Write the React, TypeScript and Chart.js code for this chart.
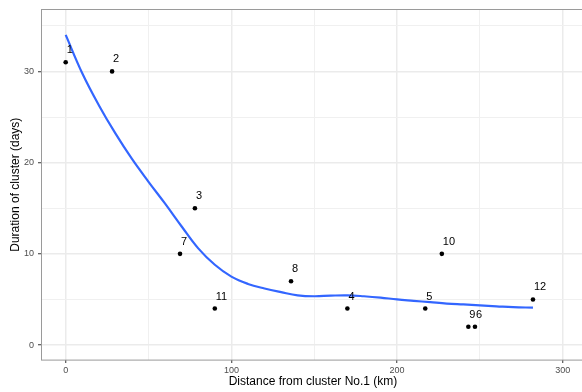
import React, { useEffect, useRef } from 'react';
import { Chart, registerables } from 'chart.js';

Chart.register(...registerables);

// Cluster points
const clusterLabels = ['1', '2', '3', '4', '5', '6', '7', '8', '9', '10', '11', '12'];
const distanceKm = [0, 28, 78, 170, 217, 247, 69, 136, 243, 227, 90, 282];
const durationDays = [31, 30, 15, 4, 4, 2, 10, 7, 2, 10, 4, 5];

// Smoothed (loess) curve
const smoothDistance = [0, 10, 20, 30, 40, 50, 60, 70, 80, 90, 100, 110, 120, 130, 140, 150, 160, 170, 180, 190, 200, 210, 220, 230, 240, 250, 260, 270, 282];
const smoothDuration = [34.0, 29.8, 26.3, 23.2, 20.4, 17.9, 15.5, 13.0, 10.6, 8.8, 7.5, 6.7, 6.2, 5.8, 5.45, 5.35, 5.42, 5.45, 5.35, 5.2, 5.0, 4.85, 4.7, 4.55, 4.45, 4.35, 4.25, 4.15, 4.1];

// Axis ticks (major labelled, minor grid only)
const xTickValues = [0, 50, 100, 150, 200, 250, 300];
const xMajorTicks = [0, 100, 200, 300];
const yTickValues = [0, 5, 10, 15, 20, 25, 30, 35];
const yMajorTicks = [0, 10, 20, 30];

const xTitle = 'Distance from cluster No.1 (km)';
const yTitle = 'Duration of cluster (days)';

export default function App() {
  const ref = useRef<HTMLCanvasElement>(null);

  useEffect(() => {
    const canvas = ref.current;
    if (!canvas) return;
    const family = "'Liberation Sans', Arial, Helvetica, sans-serif";

    const labelPlugin = {
      id: 'pointLabels',
      afterDatasetsDraw(chart: any) {
        const meta = chart.getDatasetMeta(0);
        const ctx = chart.ctx;
        ctx.save();
        ctx.font = `11px ${family}`;
        ctx.fillStyle = '#000000';
        ctx.textAlign = 'left';
        ctx.textBaseline = 'middle';
        meta.data.forEach((el: any, i: number) => {
          ctx.fillText(clusterLabels[i], el.x + 1, el.y - 12);
        });
        ctx.restore();
      },
    };

    const borderPlugin = {
      id: 'panelBorder',
      afterDraw(chart: any) {
        const { left, top, right, bottom } = chart.chartArea;
        const ctx = chart.ctx;
        ctx.save();
        ctx.strokeStyle = '#9a9a9a';
        ctx.lineWidth = 1;
        ctx.strokeRect(Math.round(left) + 0.5, Math.round(top) + 0.5, right - left, bottom - top);
        ctx.restore();
      },
    };

    const chart = new Chart(canvas, {
      type: 'scatter',
      data: {
        datasets: [
          {
            type: 'scatter',
            data: distanceKm.map((x, i) => ({ x, y: durationDays[i] })),
            backgroundColor: '#000000',
            borderWidth: 0,
            pointRadius: 2.3,
            order: 1,
          },
          {
            type: 'line',
            data: smoothDistance.map((x, i) => ({ x, y: smoothDuration[i] })),
            borderColor: '#3366FF',
            borderWidth: 2.2,
            pointRadius: 0,
            fill: false,
            tension: 0.4,
            order: 0,
          } as any,
        ],
      },
      options: {
        responsive: false,
        animation: false,
        devicePixelRatio: 1,
        layout: { padding: { left: 0, right: 15, top: 8, bottom: 3 } },
        plugins: {
          legend: { display: false },
          tooltip: { enabled: false },
        },
        scales: {
          x: {
            type: 'linear',
            position: 'bottom',
            min: -14.9,
            max: 313.4,
            afterBuildTicks: (scale: any) => {
              scale.ticks = xTickValues.map((v) => ({ value: v }));
            },
            afterFit: (scale: any) => {
              scale.height = 29;
            },
            border: { display: false },
            grid: {
              color: (c: any) => (xMajorTicks.includes(c.tick?.value) ? '#EBEBEB' : '#F0F0F0'),
              lineWidth: (c: any) => (xMajorTicks.includes(c.tick?.value) ? 1.5 : 1),
              tickColor: (c: any) => (xMajorTicks.includes(c.tick?.value) ? '#333333' : 'rgba(0,0,0,0)'),
              tickLength: 3,
              tickWidth: 1,
              drawTicks: true,
            },
            ticks: {
              autoSkip: false,
              maxRotation: 0,
              padding: 2,
              color: '#4D4D4D',
              font: { family, size: 9 },
              callback: (v: any) => (xMajorTicks.includes(Number(v)) ? String(v) : ''),
            },
            title: {
              display: true,
              text: xTitle,
              color: '#000000',
              font: { family, size: 12 },
              padding: { top: 0, bottom: 0 },
            },
          },
          y: {
            type: 'linear',
            position: 'left',
            min: -1.64,
            max: 36.8,
            afterBuildTicks: (scale: any) => {
              scale.ticks = yTickValues.map((v) => ({ value: v }));
            },
            afterFit: (scale: any) => {
              scale.width = 41;
            },
            border: { display: false },
            grid: {
              color: (c: any) => (yMajorTicks.includes(c.tick?.value) ? '#EBEBEB' : '#F0F0F0'),
              lineWidth: (c: any) => (yMajorTicks.includes(c.tick?.value) ? 1.5 : 1),
              tickColor: (c: any) => (yMajorTicks.includes(c.tick?.value) ? '#333333' : 'rgba(0,0,0,0)'),
              tickLength: 3,
              tickWidth: 1,
              drawTicks: true,
            },
            ticks: {
              autoSkip: false,
              padding: 4,
              color: '#4D4D4D',
              font: { family, size: 9 },
              callback: (v: any) => (yMajorTicks.includes(Number(v)) ? String(v) : ''),
            },
            title: {
              display: true,
              text: yTitle,
              color: '#000000',
              font: { family, size: 12 },
              padding: { top: 8, bottom: 0 },
            },
          },
        },
      },
      plugins: [labelPlugin, borderPlugin],
    } as any);

    return () => {
      chart.destroy();
    };
  }, []);

  return (
    <div
      style={{
        position: 'fixed',
        left: 0,
        top: 0,
        width: 582,
        height: 392,
        overflow: 'hidden',
        background: '#ffffff',
      }}
    >
      <canvas ref={ref} width={600} height={392} style={{ display: 'block', width: 600, height: 392 }} />
    </div>
  );
}
